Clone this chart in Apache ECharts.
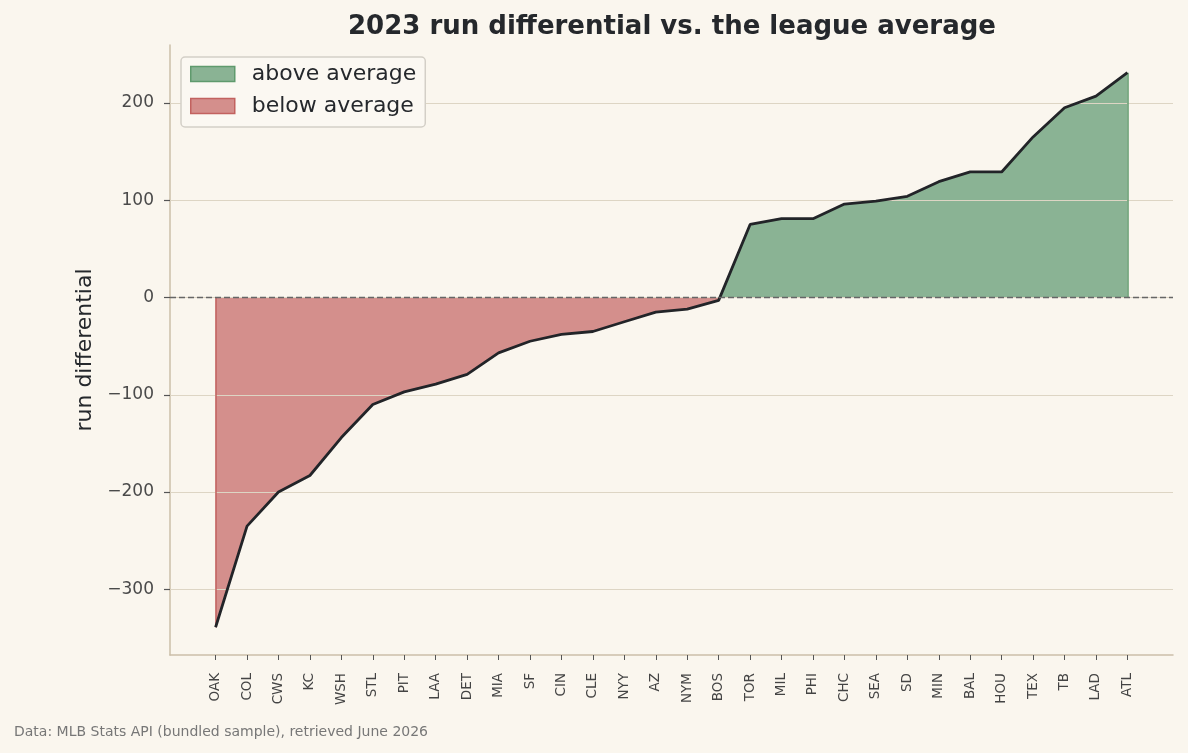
<!DOCTYPE html>
<html>
<head>
<meta charset="utf-8">
<script src="https://cdn.jsdelivr.net/npm/echarts@6/dist/echarts.min.js"></script>
<style>
  html, body { margin: 0; padding: 0; background: #faf6ee; }
  #main { width: 1188px; height: 753px; }
</style>
</head>
<body>
<div id="main"></div>
<script>
// teams sorted by run differential
const teams = ['OAK','COL','CWS','KC','WSH','STL','PIT','LAA','DET','MIA','SF','CIN','CLE','NYY','AZ',
  'NYM','BOS','TOR','MIL','PHI','CHC','SEA','SD','MIN','BAL','HOU','TEX','TB','LAD','ATL'];
const diffs = [-339,-235,-200,-183,-144,-110,-97,-89,-79,-57,-45,-38,-35,-25,-15,
  -12,-3,75,81,81,96,99,104,119,129,129,165,195,207,231];
const yTicks = [-300,-200,-100,0,100,200];

const font = 'DejaVu Sans';
const n = teams.length;
const vmin = Math.min(...diffs), vmax = Math.max(...diffs);
const pad = (vmax - vmin) * 0.05;

// split into above / below zero, adding the zero crossing so the fills meet
const below = [], above = [];
for (let i = 0; i < n; i++) {
  const v = diffs[i];
  if (v <= 0) below.push([i, v]);
  if (v >= 0) above.push([i, v]);
  if (i < n - 1) {
    const w = diffs[i + 1];
    if ((v < 0 && w > 0) || (v > 0 && w < 0)) {
      const cx = i + (0 - v) / (w - v);
      below.push([cx, 0]);
      above.push([cx, 0]);
    }
  }
}
const line = diffs.map((v, i) => [i, v]);

const chart = echarts.init(document.getElementById('main'));
chart.setOption({
  animation: false,
  backgroundColor: '#faf6ee',
  textStyle: { fontFamily: font },
  title: {
    text: '2023 run differential vs. the league average',
    left: 667, textAlign: 'center', top: 9,
    textStyle: { fontFamily: font, fontSize: 26, fontWeight: 'bold', color: '#25282c' }
  },
  legend: {
    left: 181, top: 57, orient: 'vertical',
    padding: [6, 9, 10, 9], itemGap: 10,
    itemWidth: 44, itemHeight: 15,
    backgroundColor: '#fbf8f2', borderColor: '#d3cfc7', borderWidth: 1.5, borderRadius: 4,
    textStyle: { fontFamily: font, fontSize: 22, color: '#25282c', padding: [0, 0, 0, 12] },
    data: [
      { name: 'above average', icon: 'rect', itemStyle: { color: '#8ab394', borderColor: '#5f9a6d', borderWidth: 1.5 } },
      { name: 'below average', icon: 'rect', itemStyle: { color: '#d48f8c', borderColor: '#c2625f', borderWidth: 1.5 } }
    ]
  },
  graphic: [{
    type: 'text', left: 14, top: 725,
    style: { text: 'Data: MLB Stats API (bundled sample), retrieved June 2026', fontFamily: font, fontSize: 14, fill: '#777' }
  }],
  grid: { left: 170, right: 15, top: 45, bottom: 98 },
  xAxis: {
    type: 'value', min: -0.05 * (n - 1), max: (n - 1) * 1.05,
    axisLine: { onZero: false, lineStyle: { color: '#cbbfa9', width: 1.5 } },
    axisTick: { customValues: teams.map((t, i) => i), length: 5, lineStyle: { color: '#555', width: 1 } },
    axisLabel: {
      customValues: teams.map((t, i) => i), rotate: 90, margin: 18,
      fontFamily: font, fontSize: 13.5, color: '#444',
      formatter: v => teams[v]
    },
    splitLine: { show: false }
  },
  yAxis: {
    type: 'value', min: vmin - pad, max: vmax + pad,
    name: 'run differential', nameLocation: 'middle', nameGap: 67,
    nameTextStyle: { fontFamily: font, fontSize: 22, color: '#25282c' },
    axisLine: { show: true, onZero: false, lineStyle: { color: '#cbbfa9', width: 1.5 } },
    axisTick: { show: true, customValues: yTicks, length: 6, lineStyle: { color: '#555', width: 1.2 } },
    axisLabel: {
      customValues: yTicks, margin: 16, fontFamily: font, fontSize: 17, color: '#4a4a4a',
      padding: [4, 0, 0, 0],
      formatter: v => (v < 0 ? '\u2212' + (-v) : String(v))
    },
    splitLine: { show: false }
  },
  series: [
    {
      name: 'below average', type: 'line', data: below, z: 2,
      symbol: 'none', lineStyle: { width: 0 },
      areaStyle: { color: '#d48f8c', opacity: 1, origin: 0 },
      itemStyle: { color: '#d48f8c' },
      markLine: {
        silent: true, symbol: 'none', z: 3, label: { show: false },
        data: yTicks.map(t => ({ yAxis: t, lineStyle: { color: '#ddd5c4', width: 1.2, type: 'solid' } }))
          .concat([[{ coord: [0, 0], lineStyle: { color: '#c2625f', width: 1.5, type: 'solid' } }, { coord: [0, diffs[0]] }]])
      }
    },
    {
      name: 'above average', type: 'line', data: above, z: 2,
      symbol: 'none', lineStyle: { width: 0 },
      areaStyle: { color: '#8ab394', opacity: 1, origin: 0 },
      itemStyle: { color: '#8ab394' },
      markLine: {
        silent: true, symbol: 'none', z: 3, label: { show: false },
        data: [[{ coord: [n - 1, 0], lineStyle: { color: '#5f9a6d', width: 1.5, type: 'solid' } }, { coord: [n - 1, diffs[n - 1]] }]]
      }
    },
    {
      name: 'run differential', type: 'line', data: line, z: 6,
      symbol: 'none', lineStyle: { color: '#222428', width: 2.8 },
      markLine: {
        silent: true, symbol: 'none', z: 8, label: { show: false },
        data: [{ yAxis: 0, lineStyle: { color: '#666', width: 1.4, type: [6, 3] } }]
      }
    }
  ]
});
</script>
</body>
</html>
